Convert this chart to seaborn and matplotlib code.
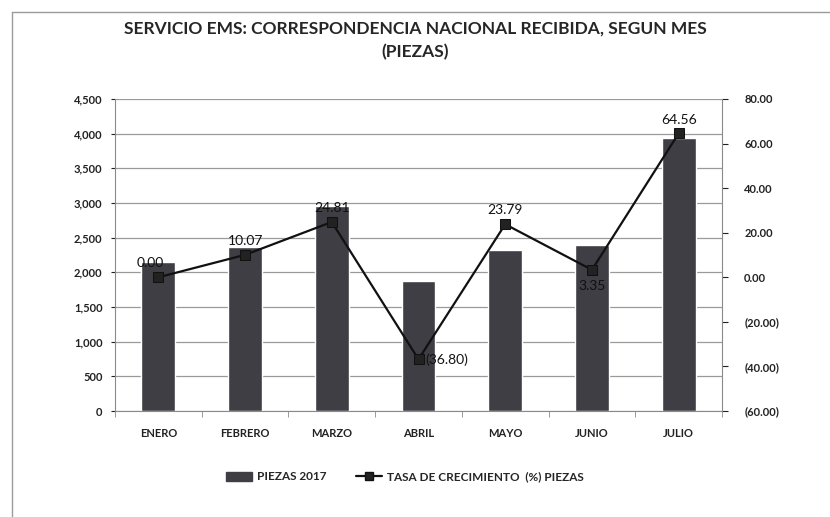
import numpy as np
import pandas as pd
import matplotlib
matplotlib.use("Agg")
import matplotlib.pyplot as plt
from matplotlib.lines import Line2D
from matplotlib.patches import Patch
import seaborn as sns

# Data
meses = ["ENERO", "FEBRERO", "MARZO", "ABRIL", "MAYO", "JUNIO", "JULIO"]
piezas_2017 = [2155, 2372, 2961, 1871, 2316, 2394, 3939]
tasa_crec = [0.00, 10.07, 24.81, -36.80, 23.79, 3.35, 64.56]

df = pd.DataFrame({"mes": meses, "piezas": piezas_2017, "tasa": tasa_crec})

sns.set_style("white")
plt.rcParams['font.family'] = ['Lato', 'DejaVu Sans']

fig = plt.figure(figsize=(8.3, 5.17), dpi=100)
ax = fig.add_axes([115 / 830, 1 - 411 / 517, 607 / 830, 312 / 517])

bar_col = "#3e3e44"
sns.barplot(data=df, x="mes", y="piezas", color=bar_col, width=0.39,
            saturation=1, ax=ax, zorder=2)
ax.set_ylim(0, 4500)
ax.set_yticks(np.arange(0, 4501, 500))
ax.yaxis.set_major_formatter(matplotlib.ticker.FuncFormatter(lambda v, p: f"{int(v):,}"))
ax.grid(axis="y", color="#9a9a9a", lw=0.9, zorder=0)
ax.set_xlim(-0.5, len(meses) - 0.5)
ax.set_xlabel("")
ax.set_ylabel("")
for s in ["top", "right"]:
    ax.spines[s].set_visible(False)
ax.spines["left"].set_color("#8a8a8a")
ax.spines["bottom"].set_color("#8a8a8a")
ax.tick_params(axis="y", labelsize=8, colors="#222222", length=3, left=True, pad=6)
ax.tick_params(axis="x", labelsize=8, colors="#222222", length=0, pad=12)
for lab in ax.get_yticklabels() + ax.get_xticklabels():
    lab.set_fontweight("bold")
ax.set_xticks(np.arange(-0.5, len(meses), 1), minor=True)
ax.tick_params(axis="x", which="minor", bottom=True, length=4, color="#8a8a8a")

# Secondary axis - growth rate
ax2 = ax.twinx()
sns.lineplot(data=df, x="mes", y="tasa", color="#111111", lw=1.6, marker="s",
             markersize=6.5, markerfacecolor="#222222", markeredgecolor="#111111",
             ax=ax2, zorder=3, sort=False)
ax2.set_ylim(-60, 80)
ax2.set_yticks(np.arange(-60, 81, 20))
ax2.yaxis.set_major_formatter(matplotlib.ticker.FuncFormatter(
    lambda v, p: f"({abs(v):.2f})" if v < 0 else f"{v:.2f}"))
ax2.set_ylabel("")
for s in ["top", "left", "bottom"]:
    ax2.spines[s].set_visible(False)
ax2.spines["right"].set_color("#8a8a8a")
ax2.tick_params(axis="y", labelsize=8, colors="#222222", length=4, right=True, pad=12)
for lab in ax2.get_yticklabels():
    lab.set_fontweight("bold")

# Data labels for the line
offsets = {0: (-6, 10, "center"), 1: (0, 10, "center"), 2: (0, 10, "center"),
           3: (5, 0, "left"), 4: (0, 10, "center"), 5: (0, -12, "center"),
           6: (0, 10, "center")}
for i, v in enumerate(tasa_crec):
    dx, dy, ha = offsets[i]
    txt = f"({abs(v):.2f})" if v < 0 else f"{v:.2f}"
    ax2.annotate(txt, (i, v), xytext=(dx, dy), textcoords="offset points",
                 ha=ha, va="center", fontsize=10, color="#111111")

fig.suptitle("SERVICIO EMS: CORRESPONDENCIA NACIONAL RECIBIDA, SEGUN MES\n(PIEZAS)",
             x=415 / 830, y=1 - 21 / 517, fontsize=12.5, fontweight="bold",
             va="top", linespacing=1.5)

handles = [Patch(facecolor=bar_col, edgecolor=bar_col),
           Line2D([0], [0], color="#111111", lw=1.6, marker="s", markersize=6,
                  markerfacecolor="#222222")]
fig.legend(handles, ["PIEZAS 2017", "TASA DE CRECIMIENTO  (%) PIEZAS"],
           loc="center", bbox_to_anchor=(405 / 830, 1 - 477 / 517), ncol=2,
           frameon=False, handlelength=2.2, columnspacing=2.5,
           handletextpad=0.4, prop={"weight": "bold", "size": 8.5})

# Scanned frame edges (top and left only)
fig.add_artist(Line2D([12 / 830, 1], [1 - 12 / 517, 1 - 12 / 517],
                      transform=fig.transFigure, color="#9a9a9a", lw=1))
fig.add_artist(Line2D([12 / 830, 12 / 830], [0, 1 - 12 / 517],
                      transform=fig.transFigure, color="#9a9a9a", lw=1))

fig.savefig("out.png", dpi=100, facecolor="white")
